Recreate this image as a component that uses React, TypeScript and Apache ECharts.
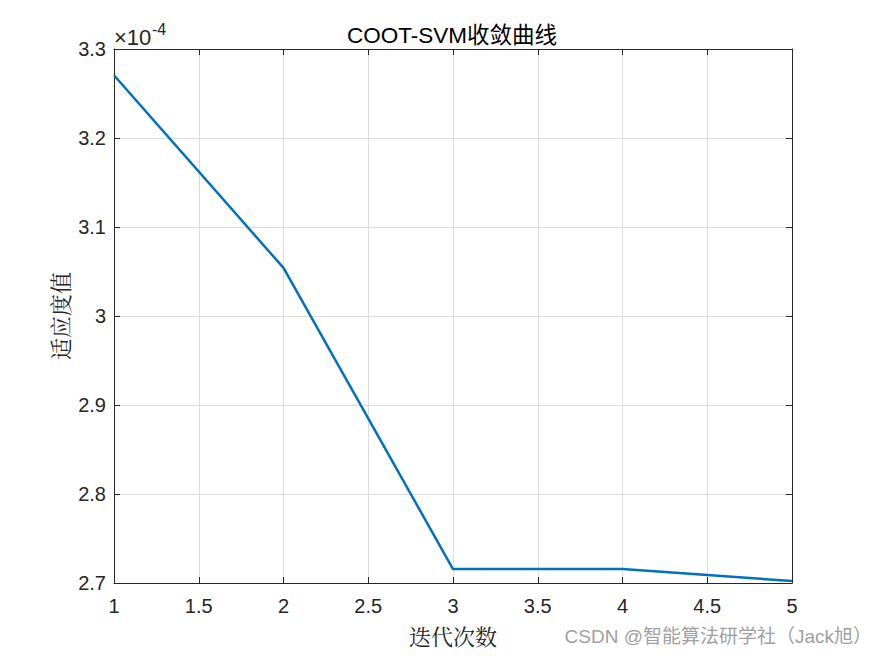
import React, { useEffect, useRef } from "react";
import * as echarts from "echarts";

const iterations = [1, 2, 3, 4, 5];
const fitness = [3.2705, 3.054, 2.7157, 2.7157, 2.7022];
const xTicks = [1, 1.5, 2, 2.5, 3, 3.5, 4, 4.5, 5];
const yTicks = [2.7, 2.8, 2.9, 3.0, 3.1, 3.2, 3.3];

const titleText = "COOT-SVM收敛曲线";
const xName = "迭代次数";
const yName = "适应度值";
const watermark = "CSDN @智能算法研学社（Jack旭）";

export default function App() {
  const ref = useRef<HTMLDivElement>(null);
  useEffect(() => {
    if (!ref.current) return;
    const chart = echarts.init(ref.current, undefined, { renderer: "svg" });
    const L = 114, T = 49, W = 678, H = 534;
    const sans = "Liberation Sans, Arial, sans-serif";
    const tickFont = { fontFamily: sans, fontSize: 20, color: "#262626" };
    const fmtX = (v: number) => (xTicks.indexOf(v) >= 0 ? String(v) : "");
    const fmtY = (v: number) => {
      const r = Math.round(v * 10) / 10;
      if (yTicks.indexOf(r) < 0) return "";
      return r === 3 ? "3" : r.toFixed(1);
    };
    chart.setOption({
      animation: false,
      backgroundColor: "#ffffff",
      title: {
        text: titleText,
        left: 447,
        top: 19,
        textAlign: "center",
        textStyle: { fontFamily: "Liberation Sans, Arial, Noto Sans CJK SC, sans-serif", fontSize: 22.5, fontWeight: "normal", color: "#000" },
      },
      grid: { left: L, top: T, width: W, height: H },
      xAxis: [
        {
          type: "value",
          min: 1,
          max: 5,
          interval: 0.5,
          position: "bottom",
          axisLine: { show: true, lineStyle: { color: "#262626", width: 1 } },
          axisTick: { show: true, inside: true, length: 6, lineStyle: { color: "#262626" } },
          axisLabel: { ...tickFont, margin: 13, formatter: fmtX },
          splitLine: { show: true, lineStyle: { color: "#dcdcdc", width: 1 } },
        },
        {
          type: "value",
          min: 1,
          max: 5,
          interval: 0.5,
          position: "top",
          axisLine: { show: true, lineStyle: { color: "#262626", width: 1 } },
          axisTick: { show: true, inside: true, length: 6, lineStyle: { color: "#262626" } },
          axisLabel: { show: false },
          splitLine: { show: false },
        },
      ],
      yAxis: [
        {
          type: "value",
          min: 2.7,
          max: 3.3,
          interval: 0.1,
          position: "left",
          axisLine: { show: true, lineStyle: { color: "#262626", width: 1 } },
          axisTick: { show: true, inside: true, length: 6, lineStyle: { color: "#262626" } },
          axisLabel: { ...tickFont, margin: 8, formatter: fmtY },
          splitLine: { show: true, lineStyle: { color: "#dcdcdc", width: 1 } },
        },
        {
          type: "value",
          min: 2.7,
          max: 3.3,
          interval: 0.1,
          position: "right",
          axisLine: { show: true, lineStyle: { color: "#262626", width: 1 } },
          axisTick: { show: true, inside: true, length: 6, lineStyle: { color: "#262626" } },
          axisLabel: { show: false },
          splitLine: { show: false },
        },
      ],
      series: [
        {
          type: "line",
          data: iterations.map((x, i) => [x, fitness[i]]),
          showSymbol: false,
          symbol: "none",
          lineStyle: { color: "#0072BD", width: 2.5 },
          xAxisIndex: 0,
          yAxisIndex: 0,
        },
      ],
      graphic: [
        {
          type: "text",
          x: 114,
          y: 37,
          style: {
            text: "×10",
            fontFamily: sans,
            fontSize: 22,
            fill: "#262626",
            align: "left",
            verticalAlign: "middle",
          },
        },
        {
          type: "text",
          x: 152,
          y: 29,
          style: {
            text: "-4",
            fontFamily: sans,
            fontSize: 16,
            fill: "#262626",
            align: "left",
            verticalAlign: "middle",
          },
        },
        {
          type: "text",
          x: 453,
          y: 635,
          style: {
            text: xName,
            fontFamily: "Noto Serif CJK SC, Noto Sans CJK SC, serif",
            fontSize: 22,
            fill: "#262626",
            align: "center",
            verticalAlign: "middle",
          },
        },
        {
          type: "text",
          x: 59,
          y: 316,
          rotation: Math.PI / 2,
          style: {
            text: yName,
            fontFamily: "Noto Serif CJK SC, Noto Sans CJK SC, serif",
            fontSize: 22,
            fill: "#262626",
            align: "center",
            verticalAlign: "middle",
          },
        },
        {
          type: "text",
          x: 872,
          y: 636,
          style: {
            text: watermark,
            fontFamily: "Liberation Sans, Arial, Noto Sans CJK SC, sans-serif",
            fontSize: 19,
            fill: "#a0a0a0",
            align: "right",
            verticalAlign: "middle",
          },
        },
      ],
    });
    return () => chart.dispose();
  }, []);
  return <div ref={ref} style={{ position: "fixed", left: 0, top: 0, width: 875, height: 656 }} />;
}
